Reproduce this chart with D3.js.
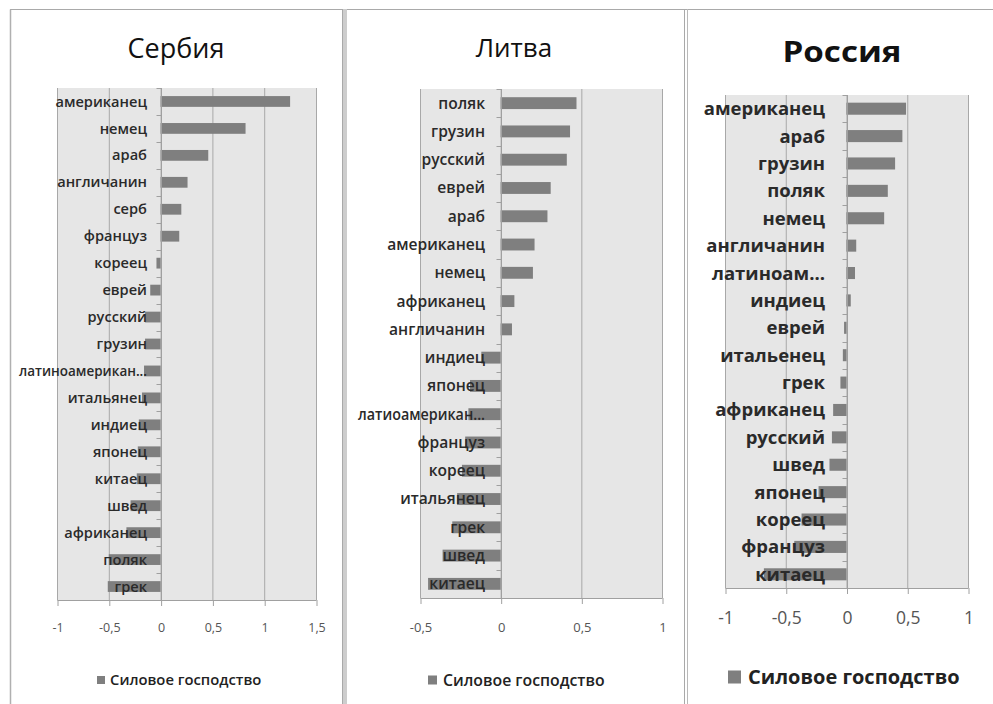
<!DOCTYPE html>
<html>
<head>
<meta charset="utf-8">
<script src="https://cdn.jsdelivr.net/npm/d3@7"></script>
<style>
  html, body { margin: 0; padding: 0; background: #ffffff; }
  svg { display: block; }
</style>
</head>
<body>
<svg id="chart" width="993" height="704"></svg>
<script>
// ---- Data -------------------------------------------------------------
const seriesName = "Силовое господство";

const serbiaTitle = "Сербия";
const serbiaCategories = ["американец", "немец", "араб", "англичанин", "серб", "француз",
  "кореец", "еврей", "русский", "грузин", "латиноамерикан...", "итальянец", "индиец",
  "японец", "китаец", "швед", "африканец", "поляк", "грек"];
const serbiaValues = [1.25, 0.82, 0.46, 0.26, 0.20, 0.18, -0.04, -0.10, -0.15, -0.15,
  -0.16, -0.18, -0.21, -0.22, -0.23, -0.29, -0.33, -0.50, -0.51];
const serbiaTicks = [-1, -0.5, 0, 0.5, 1, 1.5];

const lithuaniaTitle = "Литва";
const lithuaniaCategories = ["поляк", "грузин", "русский", "еврей", "араб", "американец",
  "немец", "африканец", "англичанин", "индиец", "японец", "латиоамерикан...", "француз",
  "кореец", "итальянец", "грек", "швед", "китаец"];
const lithuaniaValues = [0.47, 0.43, 0.41, 0.31, 0.29, 0.21, 0.20, 0.085, 0.07, -0.12,
  -0.19, -0.20, -0.22, -0.24, -0.27, -0.30, -0.36, -0.45];
const lithuaniaTicks = [-0.5, 0, 0.5, 1];

const russiaTitle = "Россия";
const russiaCategories = ["американец", "араб", "грузин", "поляк", "немец", "англичанин",
  "латиноам...", "индиец", "еврей", "итальенец", "грек", "африканец", "русский", "швед",
  "японец", "кореец", "француз", "китаец"];
const russiaValues = [0.49, 0.46, 0.40, 0.34, 0.31, 0.08, 0.07, 0.035, -0.02, -0.03,
  -0.05, -0.11, -0.12, -0.14, -0.23, -0.37, -0.43, -0.68];
const russiaTicks = [-1, -0.5, 0, 0.5, 1];

// ---- Styling ----------------------------------------------------------
const FONT = "'Open Sans', 'Noto Sans', 'DejaVu Sans', sans-serif";
const BAR = "#7f7f7f";
const PLOT_BG = "#e6e6e6";
const GRID = "#a8a8a8";
const AXIS = "#a0a0a0";
const fmt = v => String(v).replace(".", ",");

const svg = d3.select("#chart");

// Panel frames
svg.append("line").attr("x1", 10).attr("x2", 993).attr("y1", 9.5).attr("y2", 9.5)
  .attr("stroke", "#a9a9a9").attr("stroke-width", 1);
svg.append("line").attr("x1", 10.5).attr("x2", 10.5).attr("y1", 9.5).attr("y2", 704)
  .attr("stroke", "#b0b0b0").attr("stroke-width", 1.5);
svg.append("rect").attr("x", 342.5).attr("y", 9).attr("width", 4.5).attr("height", 695)
  .attr("fill", "#cdcdcd");
svg.append("line").attr("x1", 342.5).attr("x2", 342.5).attr("y1", 9).attr("y2", 704)
  .attr("stroke", "#a9a9a9");
svg.append("line").attr("x1", 684.5).attr("x2", 684.5).attr("y1", 9).attr("y2", 704)
  .attr("stroke", "#a9a9a9");
svg.append("line").attr("x1", 687.5).attr("x2", 687.5).attr("y1", 9).attr("y2", 704)
  .attr("stroke", "#b9b9b9");

function drawPanel(cfg) {
  const g = svg.append("g");
  const x = d3.scaleLinear().domain(cfg.domain).range([cfg.left, cfg.right]);
  const y = d3.scaleBand().domain(cfg.categories)
    .range([cfg.top, cfg.bottom]).paddingInner(cfg.pad).paddingOuter(cfg.pad / 2);
  const step = y.step();

  // title
  const t = g.append("text").attr("x", cfg.titleX).attr("y", cfg.titleY)
    .attr("text-anchor", "middle").attr("font-family", FONT)
    .attr("font-size", cfg.titleSize).attr("font-weight", cfg.titleWeight)
    .attr("fill", "#111").text(cfg.title);
  if (cfg.titleWidth) {
    t.attr("textLength", cfg.titleWidth).attr("lengthAdjust", "spacingAndGlyphs");
  }

  // plot area
  g.append("rect").attr("x", cfg.left).attr("y", cfg.top)
    .attr("width", cfg.right - cfg.left).attr("height", cfg.bottom - cfg.top)
    .attr("fill", PLOT_BG);

  // vertical gridlines
  g.selectAll(".grid").data(cfg.ticks).join("line")
    .attr("x1", d => x(d) + 0.5).attr("x2", d => x(d) + 0.5)
    .attr("y1", cfg.top).attr("y2", cfg.bottom)
    .attr("stroke", GRID).attr("stroke-width", 1);

  // bars
  const rows = cfg.categories.map((c, i) => ({ c, v: cfg.values[i] }));
  g.selectAll(".bar").data(rows).join("rect")
    .attr("x", d => Math.min(x(0), x(d.v)))
    .attr("width", d => Math.abs(x(d.v) - x(0)))
    .attr("y", d => y(d.c))
    .attr("height", y.bandwidth())
    .attr("fill", BAR);

  // value axis along the bottom
  const xAxis = d3.axisBottom(x).tickValues(cfg.ticks).tickFormat(fmt)
    .tickSize(6).tickPadding(cfg.tickPad);
  const xa = g.append("g").attr("transform", `translate(0.5,${cfg.bottom})`).call(xAxis);
  xa.select(".domain").attr("stroke", AXIS).attr("d", `M${cfg.left},0.5H${cfg.right}`);
  xa.selectAll(".tick line").attr("stroke", AXIS);
  xa.selectAll(".tick text").attr("font-family", FONT).attr("font-size", cfg.tickSize)
    .attr("fill", "#555").attr("font-weight", cfg.tickWeight);

  // category axis at zero with marks between categories
  const zx = Math.round(x(0)) + 0.5;
  g.append("line").attr("x1", zx).attr("x2", zx).attr("y1", cfg.top).attr("y2", cfg.bottom)
    .attr("stroke", AXIS);
  const bounds = d3.range(cfg.categories.length + 1).map(i => cfg.top + i * step);
  g.selectAll(".ctick").data(bounds).join("line")
    .attr("x1", zx - 5).attr("x2", zx).attr("y1", d => Math.round(d) + 0.5)
    .attr("y2", d => Math.round(d) + 0.5).attr("stroke", AXIS);

  // category labels drawn over the bars; long ones are squeezed to fit the panel
  g.selectAll(".clabel").data(cfg.categories).join("text")
    .attr("x", cfg.labelRight)
    .attr("y", d => y(d) + y.bandwidth() / 2)
    .attr("dy", "0.35em").attr("text-anchor", "end")
    .attr("font-family", FONT).attr("font-size", cfg.labelSize)
    .attr("font-weight", cfg.labelWeight).attr("fill", "#2a2a2a")
    .text(d => d)
    .each(function () {
      if (this.getComputedTextLength() > cfg.labelMax) {
        d3.select(this).attr("textLength", cfg.labelMax)
          .attr("lengthAdjust", "spacingAndGlyphs");
      }
    });

  // legend
  const lg = g.append("g");
  lg.append("rect").attr("x", cfg.legX).attr("y", cfg.legY - cfg.legBox / 2)
    .attr("width", cfg.legBox).attr("height", cfg.legBox).attr("fill", BAR);
  lg.append("text").attr("x", cfg.legX + cfg.legBox + cfg.legGap).attr("y", cfg.legY)
    .attr("dy", "0.35em").attr("font-family", FONT).attr("font-size", cfg.legSize)
    .attr("font-weight", cfg.legWeight).attr("fill", "#222").text(seriesName);
}

drawPanel({
  title: serbiaTitle, categories: serbiaCategories, values: serbiaValues, ticks: serbiaTicks,
  domain: [-1, 1.5], left: 57, right: 316, top: 88, bottom: 600, pad: 0.6,
  titleX: 176, titleY: 58, titleSize: 27, titleWeight: 400,
  labelRight: 147, labelSize: 14.6, labelWeight: 600, labelMax: 128,
  tickSize: 12.5, tickWeight: 400, tickPad: 17,
  legX: 97, legY: 680, legBox: 8, legGap: 5, legSize: 14.8, legWeight: 600
});

drawPanel({
  title: lithuaniaTitle, categories: lithuaniaCategories, values: lithuaniaValues, ticks: lithuaniaTicks,
  domain: [-0.5, 1], left: 420, right: 662, top: 89, bottom: 598, pad: 0.58,
  titleX: 514, titleY: 57, titleSize: 26, titleWeight: 400,
  labelRight: 485, labelSize: 15.6, labelWeight: 600, labelMax: 127,
  tickSize: 13, tickWeight: 400, tickPad: 19,
  legX: 428, legY: 680, legBox: 9, legGap: 6, legSize: 15.8, legWeight: 600
});

drawPanel({
  title: russiaTitle, categories: russiaCategories, values: russiaValues, ticks: russiaTicks,
  domain: [-1, 1], left: 725, right: 968, top: 95, bottom: 588, pad: 0.56,
  titleX: 842, titleY: 62, titleSize: 29, titleWeight: 700, titleWidth: 119,
  labelRight: 825, labelSize: 18.5, labelWeight: 700, labelMax: 130,
  tickSize: 17.5, tickWeight: 400, tickPad: 18,
  legX: 728, legY: 677, legBox: 13, legGap: 7, legSize: 20, legWeight: 700
});
</script>
</body>
</html>
